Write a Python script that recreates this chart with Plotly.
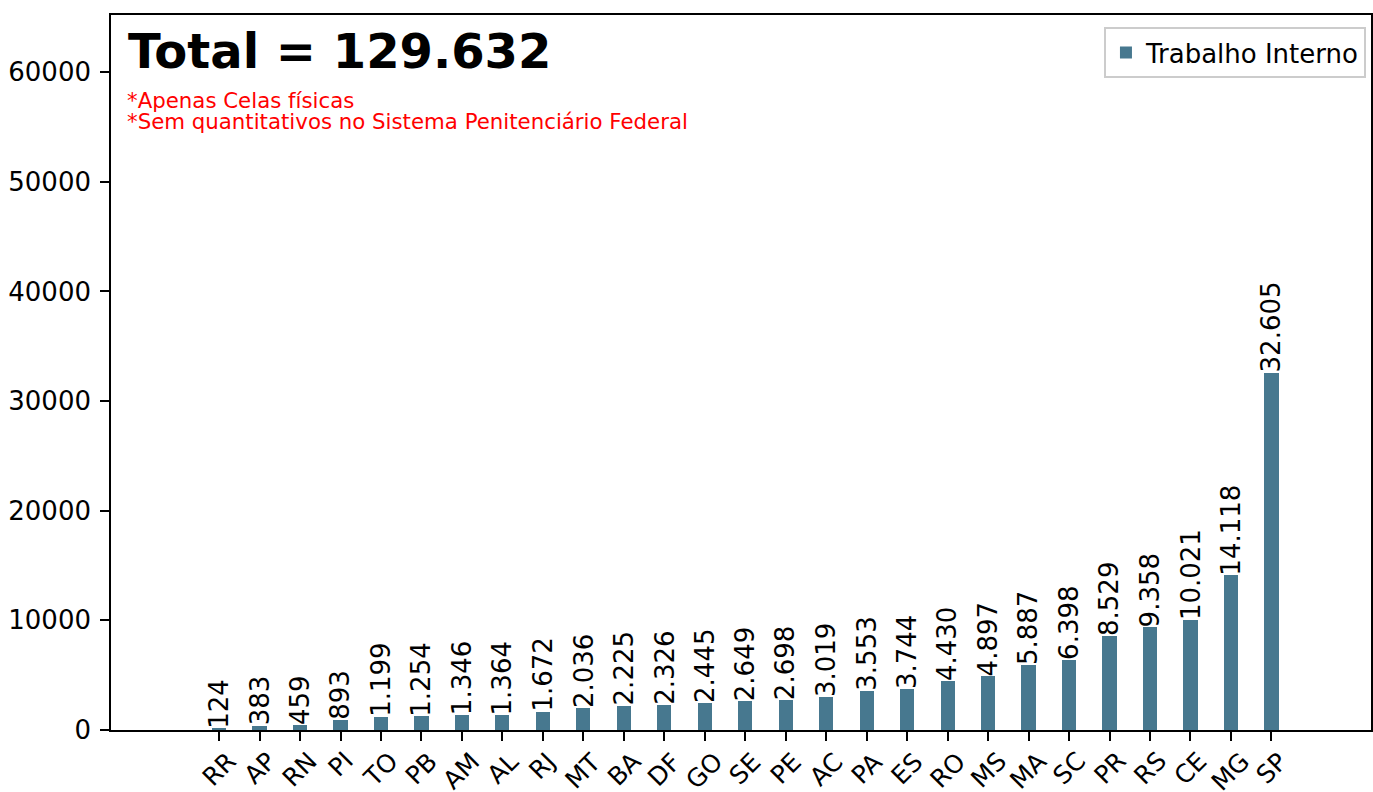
import plotly.graph_objects as go

estados = ["RR", "AP", "RN", "PI", "TO", "PB", "AM", "AL", "RJ", "MT", "BA", "DF", "GO",
           "SE", "PE", "AC", "PA", "ES", "RO", "MS", "MA", "SC", "PR", "RS", "CE", "MG", "SP"]
valores = [124, 383, 459, 893, 1199, 1254, 1346, 1364, 1672, 2036, 2225, 2326, 2445,
           2649, 2698, 3019, 3553, 3744, 4430, 4897, 5887, 6398, 8529, 9358, 10021, 14118, 32605]
rotulos = ["124", "383", "459", "893", "1.199", "1.254", "1.346", "1.364", "1.672", "2.036",
           "2.225", "2.326", "2.445", "2.649", "2.698", "3.019", "3.553", "3.744", "4.430",
           "4.897", "5.887", "6.398", "8.529", "9.358", "10.021", "14.118", "32.605"]
serie_nome = "Trabalho Interno"
titulo_total = "Total = 129.632"
notas = ["*Apenas Celas físicas", "*Sem quantitativos no Sistema Penitenciário Federal"]
y_ticks = [0, 10000, 20000, 30000, 40000, 50000, 60000]

COR = "#47788F"
FONT = "DejaVu Sans"

fig = go.Figure()
fig.add_trace(go.Bar(
    x=estados, y=valores, name=serie_nome, width=0.35,
    marker=dict(color=COR, line=dict(width=0)),
))

# value labels
for e, v, r in zip(estados, valores, rotulos):
    fig.add_annotation(x=e, y=v, xref="x", yref="y", text=r, textangle=-90,
                       showarrow=False, xanchor="center", yanchor="bottom", yshift=-2,
                       font=dict(family=FONT, size=26, color="black"))

# x tick labels rotated, centered at tick
for e in estados:
    fig.add_annotation(x=e, y=0, xref="x", yref="paper", text=e, textangle=-45,
                       showarrow=False, xanchor="center", yanchor="top", yshift=-14,
                       font=dict(family=FONT, size=25, color="black"))

fig.add_annotation(x=0.012, y=0.9497, xref="paper", yref="paper", text="<b>" + titulo_total + "</b>",
                   showarrow=False, xanchor="left", yanchor="middle",
                   font=dict(family=FONT, size=48, color="black"))
fig.add_annotation(x=0.012, y=0.881, xref="paper", yref="paper", text=notas[0],
                   showarrow=False, xanchor="left", yanchor="middle", borderpad=0,
                   font=dict(family=FONT, size=21.3, color="red"))
fig.add_annotation(x=0.012, y=0.851, xref="paper", yref="paper", text=notas[1],
                   showarrow=False, xanchor="left", yanchor="middle", borderpad=0,
                   font=dict(family=FONT, size=21.3, color="red"))

fig.update_layout(
    width=1373, height=792,
    margin=dict(l=111, r=2, t=15, b=62, autoexpand=False),
    plot_bgcolor="white", paper_bgcolor="white",
    font=dict(family=FONT, size=25, color="black"),
    showlegend=True,
    legend=dict(x=0.996, y=0.983, xanchor="right", yanchor="top",
                bordercolor="#cccccc", borderwidth=2, bgcolor="white",
                font=dict(family=FONT, size=26, color="black")),
    bargap=0,
)
fig.update_xaxes(type="category", range=[-2.67, len(estados) - 1 + 2.46], automargin=False,
                 showticklabels=False, ticks="outside", ticklen=9, tickwidth=1.6,
                 tickcolor="black", showline=True, linecolor="black", linewidth=1.6,
                 mirror=True, showgrid=False, zeroline=False)
fig.update_yaxes(range=[0, 65210], tickvals=y_ticks, tickformat="d", automargin=False,
                 ticks="outside", ticklen=9, tickwidth=1.6, tickcolor="black",
                 ticklabelstandoff=4,
                 showline=True, linecolor="black", linewidth=1.6, mirror=True,
                 showgrid=False, zeroline=False,
                 tickfont=dict(family=FONT, size=26, color="black"))

fig.write_html("out.html", config={"responsive": False, "displayModeBar": False},
               post_script="document.body.style.margin='0px';document.body.style.overflow='hidden';")
